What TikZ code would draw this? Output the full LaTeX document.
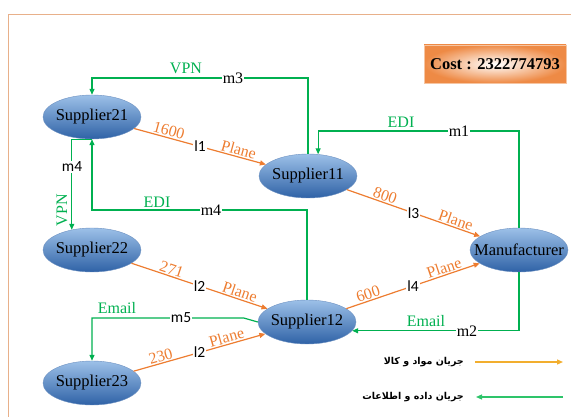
\documentclass[tikz,border=0pt]{standalone}
\usepackage{fontspec}
\setmainfont{Liberation Serif}
\newfontfamily\calib{Carlito}
\newfontfamily\farsi[Script=Arabic]{DejaVu Sans}
\TeXXeTstate=1
\usetikzlibrary{shapes.geometric,arrows.meta}
\definecolor{flowgreen}{HTML}{00B050}
\definecolor{flowor}{HTML}{ED7D31}
\definecolor{legor}{HTML}{F2AE2E}
\definecolor{leggreen}{HTML}{2EC46A}
\definecolor{framec}{HTML}{E8B08A}
\definecolor{elltop}{HTML}{9CC0E8}
\definecolor{ellbot}{HTML}{2F62A6}
\definecolor{costor}{HTML}{EE8A45}
\newcommand{\elab}[1]{\makebox[0pt]{#1}}

\begin{document}
\begin{tikzpicture}[x=1pt,y=-1pt]

    \tikzset{
      actor/.style={
        ellipse,
        minimum width=98pt,
        minimum height=44pt,
        inner sep=0pt,
        top color=elltop,
        bottom color=ellbot,
        draw=ellbot!70!white,
        line width=0.4pt,
        font=\fontsize{16.5}{16.5}\selectfont,
      },
      matflow/.style={draw=flowor, line width=1.2pt, -{Triangle[length=6pt,width=5pt]}},
      infoflow/.style={draw=flowgreen, line width=1.2pt, -{Triangle[length=6pt,width=5pt]}},
      orlbl/.style={text=flowor, inner sep=1pt, font=\fontsize{16}{16}\selectfont},
      grlbl/.style={text=flowgreen, inner sep=1pt, font=\fontsize{16}{16}\selectfont},
      lnk/.style={fill=white, inner sep=1pt, font=\calib\fontsize{15.5}{15.5}\selectfont},
      msg/.style={fill=white, inner sep=1pt, font=\fontsize{16}{16}\selectfont},
      legtxt/.style={anchor=east, inner sep=0pt, font=\farsi\bfseries\fontsize{9.5}{9.5}\selectfont},
    }
    \useasboundingbox (0,0) rectangle (571,417);
    \draw[framec, line width=0.8pt] (571,14) -- (8,14) -- (8,417);

    % actors
    \node[actor] (s21) at (92,117) {\elab{Supplier21}};
    \node[actor] (s22) at (92,250) {\elab{Supplier22}};
    \node[actor] (s23) at (92,383) {\elab{Supplier23}};
    \node[actor] (s11) at (308,176) {\elab{Supplier11}};
    \node[actor] (s12) at (307,322) {\elab{Supplier12}};
    \node[actor] (man) at (519,250) {\elab{Manufacturer}};

    \node[draw=costor!50, inner color=white, outer color=costor, minimum width=142pt,
      minimum height=38pt, font=\bfseries\fontsize{16.5}{16.5}\selectfont] (cost) at (495,64) {Cost : 2322774793};

    % material flow
    \draw[matflow] (s21) -- node[pos=0.25,sloped,above,orlbl] (q1) {1600}
      node[pos=0.5,lnk] (l1) {l1} node[pos=0.78,sloped,above,orlbl] (p1) {Plane} (s11);
    \draw[matflow] (s11) -- node[pos=0.27,sloped,above,orlbl] (q3) {800}
      node[pos=0.5,lnk] (l3) {l3} node[pos=0.8,sloped,above,orlbl] (p3) {Plane} (man);
    \draw[matflow] (s22) -- node[pos=0.28,sloped,above,orlbl] (q2) {271}
      node[pos=0.5,lnk] (l2) {l2} node[pos=0.78,sloped,above,orlbl] (p2) {Plane} (s12);
    \draw[matflow] (s23) -- node[pos=0.22,sloped,above,orlbl] (q5) {230}
      node[pos=0.5,lnk] (l2b) {l2} node[pos=0.72,sloped,above,orlbl] (p5) {Plane} (s12);
    \draw[matflow] (s12) -- node[pos=0.18,sloped,above,orlbl] (q4) {600}
      node[pos=0.5,lnk] (l4) {l4} node[pos=0.75,sloped,above,orlbl] (p4) {Plane} (man);

    % information flow
    \draw[infoflow] (s11.north) -- (s11.north |- 0,78) -| (s21.north);
    \draw[infoflow] (man.north) -- (man.north |- 0,131) -| (s11.65);
    \draw[infoflow] (s12.north) -- (s12.north |- 0,210) -| (s21.south);
    \draw[infoflow] (s21.south) -| (s22.135);
    \draw[infoflow] (man.south) |- (s12.-11);
    \draw[infoflow] (s12.west) -- ++(-14,-4) -| (s23.north);

    \node[grlbl] (vpn3) at (186,68) {VPN};
    \node[msg] (m3) at (233,78) {m3};
    \node[grlbl] (edi1) at (401,122) {EDI};
    \node[msg] (m1) at (459,131) {m1};
    \node[grlbl] (edi4) at (157,202) {EDI};
    \node[msg] (m4) at (211,210) {m4};
    \node[lnk] (m4b) at (72,167) {m4};
    \node[grlbl, rotate=90] (vpn4) at (62,210) {VPN};
    \node[grlbl] (mail2) at (426,321) {Email};
    \node[msg] (m2) at (467,331) {m2};
    \node[grlbl] (mail5) at (117,308) {Email};
    \node[lnk] (m5) at (181,318) {m5};

    % legend
    \coordinate (lgA) at (475,362);
    \coordinate (lgB) at (563,362);
    \coordinate (lgC) at (563,397);
    \coordinate (lgD) at (476,397);
    \draw[legor, line width=1.2pt, -{Triangle[length=6pt,width=5pt]}] (lgA) -- (lgB);
    \draw[leggreen, line width=1.2pt, -{Triangle[length=6pt,width=5pt]}] (lgC) -- (lgD);
    \node[legtxt] (lgT1) at (464,362) {\beginR جریان مواد و کالا\endR};
    \node[legtxt] (lgT2) at (464,397) {\beginR جریان داده و اطلاعات\endR};

\end{tikzpicture}
\end{document}
